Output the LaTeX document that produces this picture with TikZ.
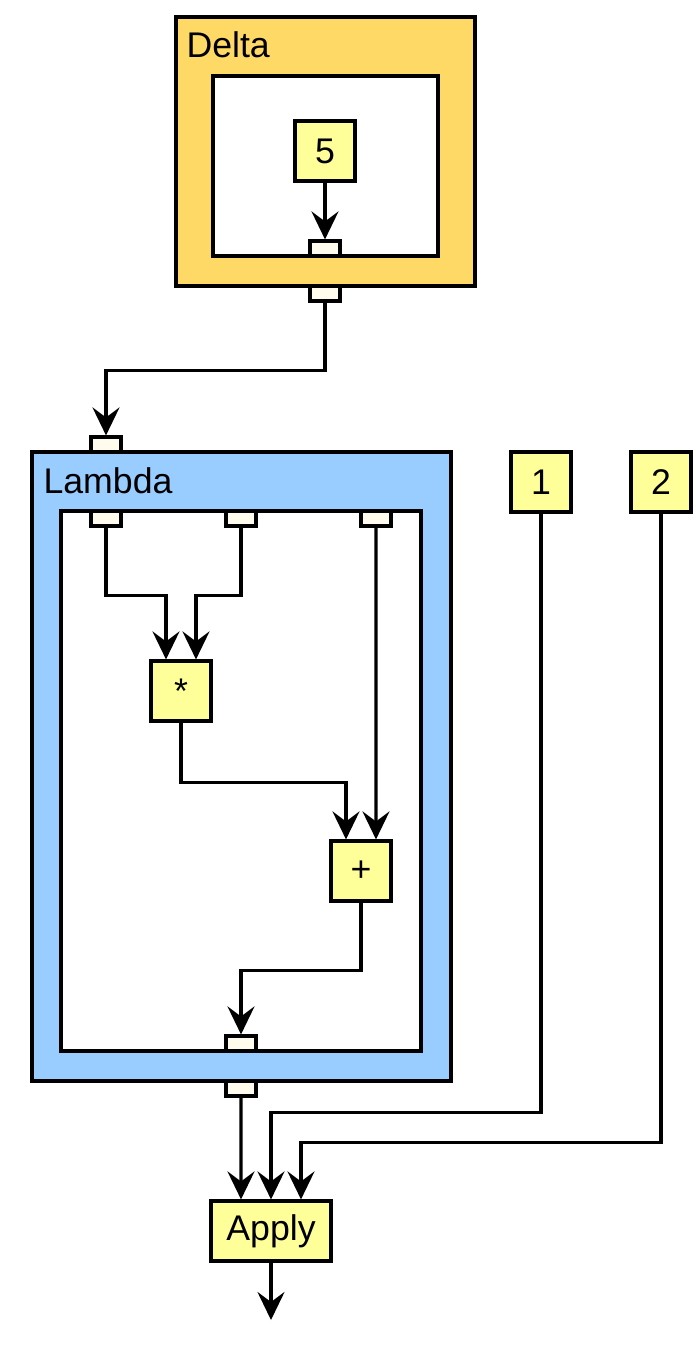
\documentclass[tikz,border=0pt]{standalone}
\usepackage{fontspec}
\setmainfont{Liberation Sans}
\usepackage{xcolor}
\usetikzlibrary{arrows.meta, positioning}

\definecolor{deltafill}{HTML}{FFD966}
\definecolor{lambdafill}{HTML}{99CCFF}
\definecolor{boxfill}{HTML}{FFFF99}
\definecolor{portfill}{HTML}{FFFCEE}

\begin{document}
\begin{tikzpicture}[x=0.02cm, y=-0.02cm, line width=1.8pt,
        every node/.style={align=center, font=\fontsize{20.3}{24}\selectfont},
        region/.style={draw, rectangle, inner sep=0pt},
        port/.style={draw, rectangle, fill=portfill, minimum width=0.6cm, minimum height=0.3cm, inner sep=0pt},
        opbox/.style={draw, rectangle, fill=boxfill, minimum width=1.2cm, minimum height=1.2cm, inner sep=0pt},
        flow/.style={-{Stealth[length=0.56cm, width=0.54cm, inset=0.2cm]}}]
        \useasboundingbox (0,0) rectangle (696,1347);

        % delta
        \node (delta) [region, fill=deltafill, minimum width=5.98cm, minimum height=5.38cm] at (325.5,151.5) {};
        \node (deltain) [region, fill=white, minimum width=4.5cm, minimum height=3.6cm] at (325.5,166) {};
        \node (deltaname) [anchor=west, inner sep=0pt] at (185,45) {Delta};
        \node (five) [opbox] at (325,151) {5};
        \node (dres) [port] at (325,248.5) {};
        \node (dout) [port] at (325,293.5) {};

        % lambda
        \node (lambda) [region, fill=lambdafill, minimum width=8.38cm, minimum height=12.58cm] at (241.5,766.5) {};
        \node (lambdain) [region, fill=white, minimum width=7.2cm, minimum height=10.8cm] at (241,781) {};
        \node (lambdaname) [anchor=west, inner sep=0pt] at (42,481) {Lambda};
        \node (lctx) [port] at (106,444.5) {};
        \node (larga) [port] at (106,518.5) {};
        \node (largb) [port] at (241,518.5) {};
        \node (largc) [port] at (376,518.5) {};
        \node (mul) [opbox] at (181,691) {*};
        \node (add) [opbox] at (361,871) {+};
        \node (lres) [port] at (241,1043.5) {};
        \node (lout) [port] at (241,1088.5) {};

        % arguments and apply
        \node (one) [opbox] at (541,482) {1};
        \node (two) [opbox] at (661,482) {2};
        \node (apply) [opbox, minimum width=2.4cm] at (271,1231) {Apply};
        \coordinate (result) at (271,1320);

        \draw[flow] (five) -- (dres);
        \draw[flow] (dout.south) -- ++(0,68) -| (lctx.north);
        \draw[flow] (larga.south) -- ++(0,68) -| ([xshift=-0.3cm]mul.north);
        \draw[flow] (largb.south) -- ++(0,68) -| ([xshift=0.3cm]mul.north);
        \draw[flow] (largc.south) -- ([xshift=0.3cm]add.north);
        \draw[flow] (mul.south) -- ++(0,60) -| ([xshift=-0.3cm]add.north);
        \draw[flow] (add.south) -- ++(0,68) -| (lres.north);
        \draw[flow] (lout.south) -- ([xshift=-0.6cm]apply.north);
        \draw[flow] (one.south) -- ++(0,599) -| (apply.north);
        \draw[flow] (two.south) -- ++(0,629) -| ([xshift=0.6cm]apply.north);
        \draw[flow] (apply.south) -- (result);
    \end{tikzpicture}
\end{document}
